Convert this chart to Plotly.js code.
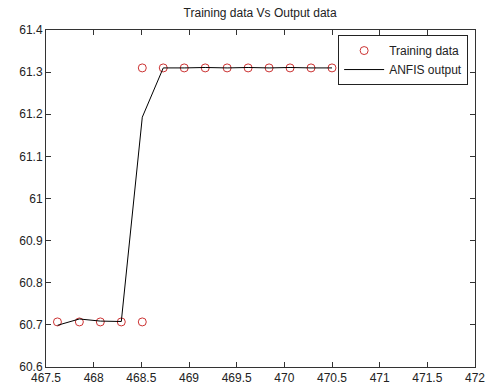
<!DOCTYPE html>
<html>
<head>
<meta charset="utf-8">
<script src="https://cdn.plot.ly/plotly-3.0.1.min.js"></script>
<style>html,body{margin:0;padding:0;background:#fff;}#chart{width:488px;height:387px;}</style>
</head>
<body>
<div id="chart"></div>
<script>
const trainX = [467.62, 467.85, 468.07, 468.29, 468.51, 468.51, 468.73, 468.95, 469.17, 469.40, 469.62, 469.84, 470.06, 470.28, 470.50];
const trainY = [60.707, 60.707, 60.707, 60.707, 60.707, 61.310, 61.310, 61.310, 61.310, 61.310, 61.310, 61.310, 61.310, 61.310, 61.310];
const anfisX = [467.62, 467.85, 468.07, 468.29, 468.51, 468.73, 468.95, 469.17, 469.40, 469.62, 469.84, 470.06, 470.28, 470.50];
const anfisY = [60.699, 60.714, 60.709, 60.708, 61.193, 61.310, 61.310, 61.311, 61.310, 61.311, 61.310, 61.311, 61.310, 61.310];
const xTicks = [467.5, 468, 468.5, 469, 469.5, 470, 470.5, 471, 471.5, 472];
const yTicks = [60.6, 60.7, 60.8, 60.9, 61, 61.1, 61.2, 61.3, 61.4];

const font = {family: 'Liberation Sans, Arial, sans-serif', size: 12, color: '#222'};

const data = [
  {x: trainX, y: trainY, type: 'scatter', mode: 'markers', name: 'Training data',
   marker: {symbol: 'circle-open', size: 8, color: '#cc3333', line: {width: 1, color: '#cc3333'}}},
  {x: anfisX, y: anfisY, type: 'scatter', mode: 'lines', name: 'ANFIS output',
   line: {color: '#000', width: 1}}
];

const axisCommon = {
  showgrid: false, zeroline: false, showline: true, linecolor: '#333', linewidth: 1,
  mirror: 'ticks', ticks: 'inside', ticklen: 5, tickcolor: '#333', tickfont: font
};

const layout = {
  width: 488, height: 387,
  margin: {l: 45.5, r: 13, t: 29.5, b: 20, pad: 0},
  paper_bgcolor: '#fff', plot_bgcolor: '#fff',
  title: {text: 'Training data Vs Output data', font: {family: font.family, size: 12, color: '#222'},
          x: 0.533, xanchor: 'center', y: 0.966, yanchor: 'middle'},
  xaxis: Object.assign({}, axisCommon, {range: [467.5, 472], tickvals: xTicks, ticktext: xTicks.map(String)}),
  yaxis: Object.assign({}, axisCommon, {range: [60.6, 61.4], tickvals: yTicks, ticktext: yTicks.map(String)}),
  showlegend: true,
  legend: {x: 0.984, xanchor: 'right', y: 0.985, yanchor: 'top', bgcolor: '#fff',
           bordercolor: '#222', borderwidth: 1, font: {family: font.family, size: 12, color: '#222'},
           tracegroupgap: 0, itemwidth: 40}
};

Plotly.newPlot('chart', data, layout, {displayModeBar: false, staticPlot: true});
</script>
</body>
</html>
